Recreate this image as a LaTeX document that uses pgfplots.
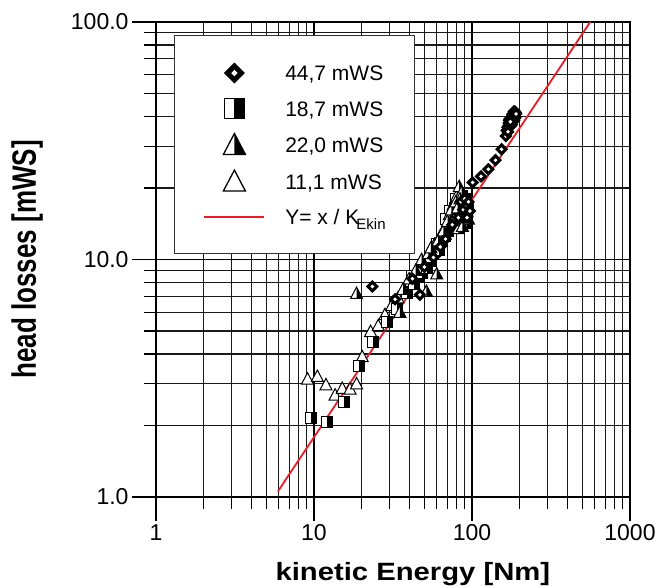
\documentclass[border=0pt]{standalone}
\usepackage{graphicx}
\usepackage{pgfplots}
\pgfplotsset{compat=1.18}
\usepackage{fontspec}
\setmainfont{Liberation Sans}
\definecolor{lred}{RGB}{237,28,36}

\pgfdeclareplotmark{tdia}{%
  \pgfsetfillcolor{black}%
  \pgfpathmoveto{\pgfpoint{0pt}{\pgfplotmarksize}}%
  \pgfpathlineto{\pgfpoint{\pgfplotmarksize}{0pt}}%
  \pgfpathlineto{\pgfpoint{0pt}{-\pgfplotmarksize}}%
  \pgfpathlineto{\pgfpoint{-\pgfplotmarksize}{0pt}}%
  \pgfpathclose
  \pgfusepathqfill
  \pgfsetfillcolor{white}%
  \pgfpathmoveto{\pgfpoint{0pt}{0.3\pgfplotmarksize}}%
  \pgfpathlineto{\pgfpoint{0.3\pgfplotmarksize}{0pt}}%
  \pgfpathlineto{\pgfpoint{0pt}{-0.3\pgfplotmarksize}}%
  \pgfpathlineto{\pgfpoint{-0.3\pgfplotmarksize}{0pt}}%
  \pgfpathclose
  \pgfusepathqfill
}
\pgfdeclareplotmark{hsq}{%
  \pgfsetfillcolor{white}%
  \pgfpathrectangle{\pgfpoint{-\pgfplotmarksize}{-\pgfplotmarksize}}{\pgfpoint{2\pgfplotmarksize}{2\pgfplotmarksize}}%
  \pgfusepathqfill
  \pgfsetfillcolor{black}%
  \pgfpathrectangle{\pgfpoint{0pt}{-\pgfplotmarksize}}{\pgfpoint{\pgfplotmarksize}{2\pgfplotmarksize}}%
  \pgfusepathqfill
  \pgfpathrectangle{\pgfpoint{-\pgfplotmarksize}{-\pgfplotmarksize}}{\pgfpoint{2\pgfplotmarksize}{2\pgfplotmarksize}}%
  \pgfusepathqstroke
}
\pgfdeclareplotmark{htri}{%
  \pgfsetfillcolor{white}%
  \pgfpathmoveto{\pgfpoint{0pt}{1.05\pgfplotmarksize}}%
  \pgfpathlineto{\pgfpoint{-\pgfplotmarksize}{-0.85\pgfplotmarksize}}%
  \pgfpathlineto{\pgfpoint{\pgfplotmarksize}{-0.85\pgfplotmarksize}}%
  \pgfpathclose
  \pgfusepathqfill
  \pgfsetfillcolor{black}%
  \pgfpathmoveto{\pgfpoint{0pt}{1.05\pgfplotmarksize}}%
  \pgfpathlineto{\pgfpoint{0pt}{-0.85\pgfplotmarksize}}%
  \pgfpathlineto{\pgfpoint{\pgfplotmarksize}{-0.85\pgfplotmarksize}}%
  \pgfpathclose
  \pgfusepathqfill
  \pgfpathmoveto{\pgfpoint{0pt}{1.05\pgfplotmarksize}}%
  \pgfpathlineto{\pgfpoint{-\pgfplotmarksize}{-0.85\pgfplotmarksize}}%
  \pgfpathlineto{\pgfpoint{\pgfplotmarksize}{-0.85\pgfplotmarksize}}%
  \pgfpathclose
  \pgfusepathqstroke
}
\pgfdeclareplotmark{otri}{%
  \pgfsetfillcolor{white}%
  \pgfpathmoveto{\pgfpoint{0pt}{1.05\pgfplotmarksize}}%
  \pgfpathlineto{\pgfpoint{-\pgfplotmarksize}{-0.85\pgfplotmarksize}}%
  \pgfpathlineto{\pgfpoint{\pgfplotmarksize}{-0.85\pgfplotmarksize}}%
  \pgfpathclose
  \pgfusepathqfillstroke
}

\pgfplotsset{
  legmark/.style={legend image code/.code={\path[draw=none,fill=none] (0bp,-10bp) rectangle (60bp,10bp); \draw[##1] plot coordinates {(30bp,0bp)};}},
  legline/.style={legend image code/.code={\path[draw=none,fill=none] (0bp,-10bp) rectangle (60bp,10bp); \draw[##1] (0bp,0bp) -- (60bp,0bp);}},
}

\begin{document}
\begin{tikzpicture}
\begin{axis}[
  scale only axis, width=474bp, height=475bp,
  xmode=log, ymode=log, xmin=1, xmax=1000, ymin=1, ymax=100,
  xtick={1,10,100,1000}, xticklabels={1,10,100,1000},
  ytick={1,10,100}, yticklabels={1.0,10.0,100.0},
  minor xtick={2,3,4,5,6,7,8,9,20,30,40,50,60,70,80,90,200,300,400,500,600,700,800,900},
  minor ytick={2,3,4,5,6,7,8,9,20,30,40,50,60,70,80,90},
  grid=both,
  major grid style={black, line width=1.1bp},
  minor grid style={black!90, line width=1.1bp},
  tick align=outside, xtick pos=bottom, ytick pos=left,
  major tick length=24bp, minor tick length=12bp,
  every tick/.style={black, line width=1.1bp},
  axis line style={black, line width=1.2bp},
  tick label style={font=\fontsize{23bp}{23bp}\selectfont},
  /pgf/number format/assume math mode=true,
  xlabel={\scalebox{1.17}[1]{kinetic Energy [Nm]}},
  ylabel={\scalebox{1}[1.3]{head losses [mWS]}},
  xlabel style={at={(axis description cs:0.542,-0.1768)}, anchor=base, font=\fontsize{25bp}{25bp}\selectfont\bfseries},
  ylabel style={at={(axis description cs:-0.2532,0.5)}, anchor=base, font=\fontsize{26bp}{26bp}\selectfont\bfseries},
  legend cell align=left,
  legend style={
    at={(axis description cs:0.038,0.9726)}, anchor=north west,
    draw=black!80, line width=1bp, fill=white,
    inner xsep=29bp, inner ysep=27bp,
    row sep=15bp, column sep=20bp,
    font=\fontsize{21bp}{24bp}\selectfont,
    nodes={inner sep=0pt, text height=15bp, text depth=0bp},
  },
]
% 11,1 mWS (open triangles)
\addplot[only marks, mark=otri, mark size=6bp, draw=black, line width=1bp, forget plot] coordinates {
(9.1,3.14) (10.5,3.22) (11.9,2.97) (13.6,2.69) (15.1,2.87) (16.9,2.85) (18.6,3.0)
(20.2,3.9) (22.8,4.98) (25.5,5.27) (28.1,5.86) (31,6.4) (34,6.9) (38,7.6)
(41,8.1) (45,8.9) (49,9.3) (54,10.1) (58,10.8)
};
% 18,7 mWS (half squares)
\addplot[only marks, mark=hsq, mark size=5.5bp, draw=black, line width=1bp, forget plot] coordinates {
(9.6,2.15) (12.1,2.06) (15.5,2.5) (19.4,3.57) (23.7,4.48) (28.8,5.44) (33.5,6.2)
(38.6,7.2) (41.5,8.5) (46,8.4) (50,9.6) (55,9.9) (59.8,11.6) (65,12.0) (70,13.2)
(75,14.2) (80,14.8) (85,16.0) (90,17.0) (93,15.5) (87,18.5) (78,16.5)
(43,7.9) (48,8.8) (52,9.2) (57,10.6) (62,11.0) (67,12.5) (72,13.8) (77,14.5)
(82,15.5) (88,17.0) (91,18.0) (94,16.5) (84,17.5) (79,18.0) (73,16.0) (68,14.8)
};
% 22,0 mWS (half triangles)
\addplot[only marks, mark=htri, mark size=6bp, draw=black, line width=1bp, forget plot] coordinates {
(18.6,7.2) (35.0,6.0) (36.6,7.5) (51.5,7.35) (59.8,8.7) (44,9.0) (48,10.0) (53,10.6)
(58,11.6) (63,12.6) (68,13.8) (72,15.5) (76,17.0) (80,18.5) (83,20.3) (86,19.2)
(90,15.5) (92,14.2) (78,15.0) (82,13.5)
(40,8.3) (55,11.2) (61,12.0) (66,13.2) (70,14.5) (74,16.2) (79,17.5) (84,18.0)
(88,17.5) (93,16.0) (95,14.8) (87,13.8) (81,16.5) (85,15.0)
};
% 44,7 mWS (diamonds)
\addplot[only marks, mark=tdia, mark size=6.5bp, forget plot] coordinates {
(23.4,7.7) (32.6,6.8) (46.8,7.1) (42,8.3) (50,9.3) (57,10.2) (63,11.3) (68,12.2)
(75,14.0) (82,15.0) (88,16.2) (92,17.0) (85,17.5) (90,18.0) (95,17.5) (97,16.0) (93,15.0)
(101,21.1) (114,22.4) (127,24.0) (141,26.2) (154,29.1) (164,33.1)
(166,35) (170,36.5) (174,37.5) (178,38.5) (182,39.5) (186,40.5) (189,41.5) (172,38.5)
(180,40.5) (184,42) (176,36.5) (185,38.5) (168,36) (171,37.5) (173,39) (177,39.5)
(179,37) (181,41) (183,40) (187,42) (188,39.5) (175,38) (169,34.5) (190,41)
};
% Y = x / K_Ekin
\addplot[lred, line width=1.8bp, forget plot] coordinates {(5.9,1.054) (560,100)};

\addlegendimage{only marks, mark=tdia, mark size=10.5bp, draw=black, line width=1.3bp, legmark}
\addlegendentry{44,7 mWS}
\addlegendimage{only marks, mark=hsq, mark size=10bp, draw=black, line width=1.3bp, legmark}
\addlegendentry{18,7 mWS}
\addlegendimage{only marks, mark=htri, mark size=11bp, draw=black, line width=1.3bp, legmark}
\addlegendentry{22,0 mWS}
\addlegendimage{only marks, mark=otri, mark size=11bp, draw=black, line width=1.3bp, legmark}
\addlegendentry{11,1 mWS}
\addlegendimage{lred, line width=1.8bp, legline}
\addlegendentry{Y= x / K\kern-3bp\raisebox{-5bp}{\fontsize{15bp}{15bp}\selectfont Ekin}}
\end{axis}
\pgfresetboundingbox
\useasboundingbox (current axis.south west) ++(-156bp,-90bp) rectangle ++(662bp,587bp);
\end{tikzpicture}
\end{document}
